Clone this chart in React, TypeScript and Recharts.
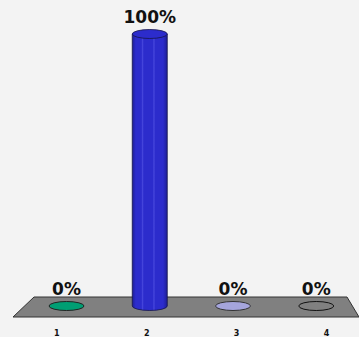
import React from 'react';
import { BarChart, Bar, XAxis, YAxis, Cell, LabelList } from 'recharts';

const categories = ['1', '2', '3', '4'];
const percentages = [0, 100, 0, 0];

const W = 359;
const H = 337;
const MARGIN = { top: 34, right: 1, bottom: 0, left: 25 };
const AXIS_H = 31;
const FLOOR_Y = H - AXIS_H; // plot bottom
const MID_X = 190;

const BAR_STYLES = [
    { fill: '#009e73', light: '#00b385', dark: '#007a59', stroke: '#222' },
    { fill: '#2c2ccc', light: '#4646dc', dark: '#1e1e96', stroke: '#15154a' },
    { fill: '#a5a5dc', light: '#bcbcea', dark: '#8585c0', stroke: '#333' },
    { fill: '#808080', light: '#808080', dark: '#808080', stroke: '#111' },
];

const data = categories.map((c, i) => ({ name: c, value: percentages[i] }));

const RY = 4.5;

const Cylinder = (props: any) => {
    const { x, y, width, height, index } = props;
    const s = BAR_STYLES[index];
    const cx = x + width / 2;
    const rx = width / 2;
    const bottom = y + height;
    if (!height || height < 1) {
        return (
            <ellipse cx={cx} cy={bottom} rx={rx} ry={RY} fill={s.fill} stroke={s.stroke} strokeWidth={1} />
        );
    }
    const gid = `cyl-${index}`;
    return (
        <g>
            <defs>
                <linearGradient id={gid} x1="0" y1="0" x2="1" y2="0">
                    <stop offset="0%" stopColor={s.dark} />
                    <stop offset="10%" stopColor={s.fill} />
                    <stop offset="26%" stopColor={s.fill} />
                    <stop offset="29%" stopColor={s.light} />
                    <stop offset="33%" stopColor={s.fill} />
                    <stop offset="58%" stopColor={s.fill} />
                    <stop offset="62%" stopColor={s.light} />
                    <stop offset="66%" stopColor={s.fill} />
                    <stop offset="88%" stopColor={s.fill} />
                    <stop offset="100%" stopColor={s.dark} />
                </linearGradient>
            </defs>
            <path
                d={`M${x},${y} L${x},${bottom} A${rx},${RY} 0 0 0 ${x + width},${bottom} L${x + width},${y} Z`}
                fill={`url(#${gid})`}
                stroke={s.stroke}
                strokeWidth={0.8}
            />
            <ellipse cx={cx} cy={y} rx={rx} ry={RY} fill={s.fill} stroke={s.stroke} strokeWidth={0.8} />
        </g>
    );
};

const ValueLabel = (props: any) => {
    const { x, y, width, value } = props;
    return (
        <text
            x={x + width / 2}
            y={y - RY - 7}
            textAnchor="middle"
            fontFamily="DejaVu Sans, Verdana, sans-serif"
            fontWeight="bold"
            fontSize={17}
            fill="#111"
        >
            {`${value}%`}
        </text>
    );
};

const PerspectiveTick = (props: any) => {
    const { x, payload } = props;
    const shifted = x + (x - MID_X) * 0.08;
    return (
        <text
            x={shifted}
            y={FLOOR_Y + 30}
            textAnchor="middle"
            fontFamily="DejaVu Sans, Verdana, sans-serif"
            fontWeight="bold"
            fontSize={8}
            fill="#111"
        >
            {payload.value}
        </text>
    );
};

const floorPoints = [
    [34, FLOOR_Y - 9],
    [347, FLOOR_Y - 9],
    [359, FLOOR_Y + 11],
    [13, FLOOR_Y + 11],
]
    .map((p) => p.join(','))
    .join(' ');

export default function App() {
    return (
        <div
            style={{
                position: 'absolute',
                left: 0,
                top: 0,
                width: W,
                height: H,
                background: '#f3f3f3',
                overflow: 'hidden',
            }}
        >
            <svg width={W} height={H} style={{ position: 'absolute', left: 0, top: 0 }}>
                <polygon points={floorPoints} fill="#808080" stroke="#333" strokeWidth={1} />
            </svg>
            <div style={{ position: 'absolute', left: 0, top: 0 }}>
                <BarChart width={W} height={H} data={data} margin={MARGIN}>
                    <XAxis
                        dataKey="name"
                        axisLine={false}
                        tickLine={false}
                        height={AXIS_H}
                        tick={<PerspectiveTick />}
                        interval={0}
                    />
                    <YAxis hide domain={[0, 100]} />
                    <Bar dataKey="value" barSize={35} shape={<Cylinder />} isAnimationActive={false}>
                        {data.map((d, i) => (
                            <Cell key={`c-${i}`} fill={BAR_STYLES[i].fill} />
                        ))}
                        <LabelList dataKey="value" content={<ValueLabel />} />
                    </Bar>
                </BarChart>
            </div>
        </div>
    );
}
